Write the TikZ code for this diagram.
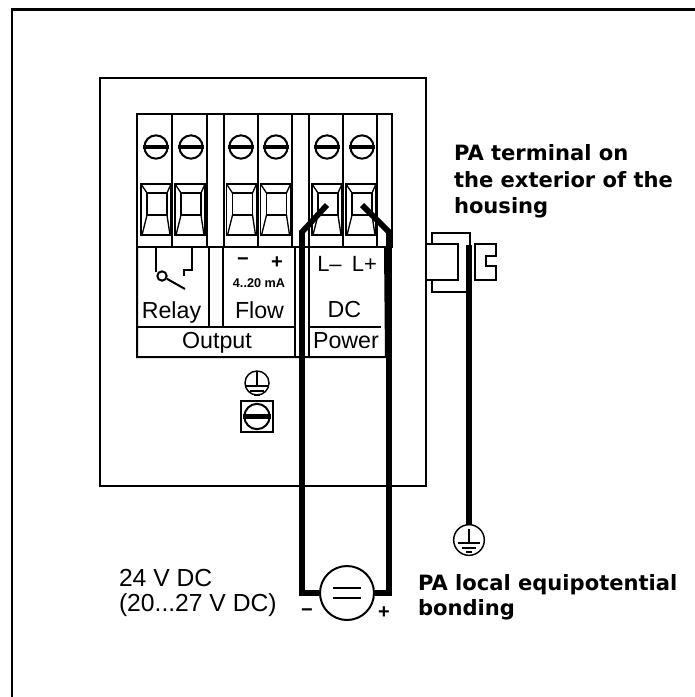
\documentclass[tikz,border=0pt]{standalone}
\usepackage{fontspec}
\setmainfont{Liberation Sans}
\newfontfamily\verdanafont{DejaVu Sans}
\usepackage{tikz}

\begin{document}
\begin{tikzpicture}[
		x=0.75pt, y=-0.75pt,
		line width=1.5pt,
		every node/.style={inner sep=0pt, font=\fontsize{17.4pt}{20pt}\selectfont},
		wire/.style={line width=4.3pt},
		thinline/.style={line width=1pt},
		screw/.style={circle, draw, fill=white, line width=1.5pt, minimum size=17.5pt},
		pe/.style={circle, draw, fill=white, line width=1.1pt},
		lbl/.style={anchor=base west, font=\fontsize{18.5pt}{20pt}\selectfont},
		boldlbl/.style={anchor=base west, align=left, font=\verdanafont\bfseries\fontsize{15.8pt}{20pt}\selectfont},
		clamp/.pic={
			\draw[line width=1.3pt] (0,0) rectangle (30,51);
			\draw[thinline] (6,9) rectangle (26,31);
			\draw[thinline] (0,0) -- (6,9) (30,0) -- (26,9);
			\draw[thinline] (6,31) -- (1,51) (26,31) -- (29,51);
		},
		groundsym/.pic={
			\draw[thinline] (0,-11) -- (0,3);
			\draw[thinline] (-11,3) -- (11,3) (-7,8) -- (7,8) (-3,12) -- (3,12);
		}
	]
  \useasboundingbox (0,0) rectangle (695,697);
  % outer frame and housing
  \draw[line width=2.2pt] (12,697) -- (12,9.5) -- (695,9.5);
  \draw (100,78) rectangle (425.5,486);

  % terminal strip
  \draw (137,114) rectangle (392,247);
  \draw (172,114) -- (172,247);
  \draw (206.5,114) -- (206.5,247);
  \draw (224,114) -- (224,247);
  \draw (258,114) -- (258,247);
  \draw (292,114) -- (292,247);
  \draw (309,114) -- (309,247);
  \draw (343,114) -- (343,247);
  \draw (377,114) -- (377,247);

  \pic (c_a) at (141,184) {clamp};
  \pic (c_b) at (175,184) {clamp};
  \pic (c_c) at (226.5,184) {clamp};
  \pic (c_d) at (260.5,184) {clamp};
  \pic (c_e) at (312,184) {clamp};
  \pic (c_f) at (346,184) {clamp};

  \node (s_a) [screw] at (156,147) {};
  \node (s_b) [screw] at (191,147) {};
  \node (s_c) [screw] at (241,147) {};
  \node (s_d) [screw] at (276,147) {};
  \node (s_e) [screw] at (327,147) {};
  \node (s_f) [screw] at (362,147) {};
  \draw[line width=3.2pt] (s_a.west) -- (s_a.east);
  \draw[line width=3.2pt] (s_b.west) -- (s_b.east);
  \draw[line width=3.2pt] (s_c.west) -- (s_c.east);
  \draw[line width=3.2pt] (s_d.west) -- (s_d.east);
  \draw[line width=3.2pt] (s_e.west) -- (s_e.east);
  \draw[line width=3.2pt] (s_f.west) -- (s_f.east);

  % label block
  \draw (137,247) -- (137,357) -- (386,357) -- (385,247);
  \draw (137,327) -- (295,327) (295,247) -- (295,357);
  \draw (209,247) -- (209,327);
  \draw (223,247) -- (223,327);
  \draw (309,247) -- (309,357);
  \draw (309,327) -- (381,327);

  % relay contact
  \node (r_pivot) [circle, draw, line width=1.5pt, minimum size=7pt] at (162,276) {};
  \coordinate (r_top) at (156,247);
  \coordinate (r_arm) at (185,289);
  \coordinate (r_fix) at (192,247);
  \draw (r_top) -- (156,272);
  \draw (r_pivot) -- (r_arm);
  \draw (r_fix) -- (192,270) -- (184,270) -- (184,276);

  \node (relay) [anchor=base] at (171.5,318) {Relay};
  \node (flow) [anchor=base] at (259.5,318) {Flow};
  \node (output) [anchor=base] at (217,348) {Output};
  \node (dc) [anchor=base] at (344.5,317) {DC};
  \node (power) [anchor=base] at (346,348) {Power};
  \node (l_minus) [anchor=base, font=\fontsize{16.5pt}{18pt}\selectfont] at (329.5,271) {L–};
  \node (l_plus) [anchor=base, font=\fontsize{16.5pt}{18pt}\selectfont] at (364.5,271) {L+};
  \node (f_minus) [anchor=center, font=\bfseries\fontsize{15pt}{18pt}\selectfont] at (243,262) {−};
  \node (f_plus) [anchor=center, font=\bfseries\fontsize{15pt}{18pt}\selectfont] at (277,263) {+};
  \node (f_range) [anchor=base, font=\bfseries\fontsize{9.5pt}{11pt}\selectfont] at (259,287) {4..20 mA};

  % housing earth screw
  \node (pe_in) [pe, minimum size=18pt] at (257,383) {};
  \pic at (257,383) {groundsym};
  \node (pe_box) [draw, minimum size=23.5pt] at (257,416.5) {};
  \node (pe_screw) [screw, minimum size=19pt] at (257,416.5) {};
  \draw[line width=3.2pt] (pe_screw.west) -- (pe_screw.east);

  % PA terminal
  \draw (426,244) rectangle (458,280);
  \draw (432,244) -- (432,233) -- (470,233) -- (470,246);
  \draw (432,280) -- (432,292) -- (470,292);
  \draw (475,244) -- (496,244) -- (496,256) -- (486,256) -- (486,266) -- (496,266) -- (496,280) -- (475,280) -- cycle;

  % supply and wires
  \node (source) [circle, draw, fill=white, line width=1.5pt, minimum size=40.5pt] at (347,593) {};
  \draw[thinline, line width=1.4pt] (333,588) -- (361,588) (333,598) -- (361,598);
  \coordinate (t_minus) at (327,205);
  \coordinate (t_plus) at (362,205);
  \draw[wire] (t_minus) -- (302,232) -- (302,593) -- (source.west);
  \draw[wire] (t_plus) -- (389,232) -- (389,593) -- (source.east);
  \node (s_minus) [font=\bfseries\fontsize{15pt}{18pt}\selectfont] at (307,613) {−};
  \node (s_plus) [font=\bfseries\fontsize{15pt}{18pt}\selectfont] at (384,613) {+};

  % PA bonding
  \node (pe_out) [pe, minimum size=23pt] at (469,540) {};
  \pic at (469,540) {groundsym};
  \coordinate (pa_top) at (469,245);
  \draw[wire] (pa_top) -- (pe_out.north);

  \node (supply) [lbl] at (118,586) {24 V DC};
  \node (range) [lbl] at (118,611) {(20...27 V DC)};
  \node (pa_ext) [boldlbl] at (453,160) {PA terminal on};
  \node (pa_ext2) [boldlbl] at (453,187) {the exterior of the};
  \node (pa_ext3) [boldlbl] at (453,213) {housing};
  \node (pa_loc) [boldlbl] at (417,590) {PA local equipotential};
  \node (pa_loc2) [boldlbl] at (417,615) {bonding};
\end{tikzpicture}
\end{document}
